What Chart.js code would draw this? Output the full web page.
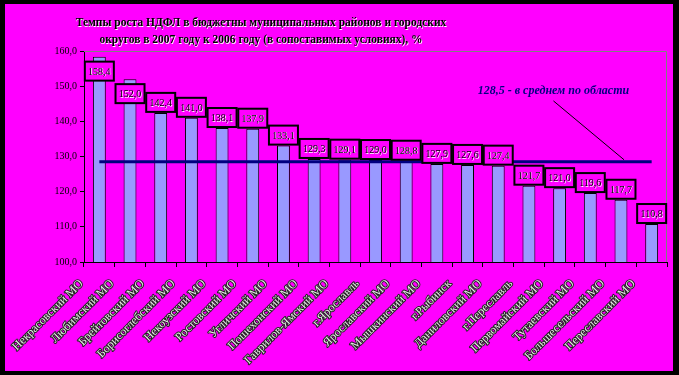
<!DOCTYPE html>
<html>
<head>
<meta charset="utf-8">
<script src="https://cdn.jsdelivr.net/npm/chart.js@4/dist/chart.umd.min.js"></script>
<style>
	html, body { margin: 0; padding: 0; background: #000; }
	#wrap { width: 679px; height: 375px; }
</style>
</head>
<body>
<div id="wrap"><canvas id="myChart" width="679" height="375"></canvas></div>
<script>
const districts = [
	"Некрасовский МО", "Любимский МО", "Брейтовский МО", "Борисоглебский МО",
	"Некоузский МО", "Ростовский МО", "Угличский МО", "Пошехонский МО",
	"Гаврилов-Ямский МО", "г.Ярославль", "Ярославский МО", "Мышкинский МО",
	"г.Рыбинск", "Даниловский МО", "г.Переславль", "Первомайский МО",
	"Тутаевский МО", "Большесельский МО", "Переславский МО"
];
const growth = [158.4, 152.0, 142.4, 141.0, 138.1, 137.9, 133.1, 129.3, 129.1, 129.0,
	128.8, 127.9, 127.6, 127.4, 121.7, 121.0, 119.6, 117.7, 110.8];
const regionAvg = 128.5;
const avgNote = "128,5 - в среднем по области";
const titleLines = [
	"Темпы роста НДФЛ в бюджетны муниципальных районов и городских",
	"округов в 2007 году к 2006 году (в сопоставимых условиях), %"
];

const serif = "'Liberation Serif', 'Times New Roman', serif";
const fmt = (v) => v.toFixed(1).replace(".", ",");

// фон: чёрная рамка и розовое поле, серые линии сверху и справа
const backdrop = {
	id: "backdrop",
	beforeDraw(chart) {
		const c = chart.ctx;
		c.save();
		c.fillStyle = "#000";
		c.fillRect(0, 0, chart.width, chart.height);
		c.fillStyle = "#ff00ff";
		c.fillRect(5, 4, 668, 367);
		c.restore();
	},
	beforeDatasetsDraw(chart) {
		const a = chart.chartArea;
		const c = chart.ctx;
		c.save();
		c.strokeStyle = "#808080";
		c.lineWidth = 1;
		c.beginPath();
		c.moveTo(a.left, a.top + 0.5);
		c.lineTo(a.right - 0.5, a.top + 0.5);
		c.lineTo(a.right - 0.5, a.bottom);
		c.stroke();
		c.restore();
	}
};

// подписи значений в рамках, подписи районов, заголовок, примечание
const extras = {
	id: "extras",
	afterDatasetsDraw(chart) {
		const c = chart.ctx;
		const a = chart.chartArea;
		const meta = chart.getDatasetMeta(1);
		c.save();
		c.font = "10px " + serif;
		c.textAlign = "center";
		c.textBaseline = "middle";
		meta.data.forEach((bar, i) => {
			const w = 29, h = 19;
			let top = bar.y - h - 1;
			if (top < a.top + 10) top = bar.y + 5;
			const left = bar.x - w / 2;
			c.fillStyle = "#ff00ff";
			c.fillRect(left, top, w, h);
			c.strokeStyle = "#000";
			c.lineWidth = 2;
			c.strokeRect(left, top, w, h);
			c.fillStyle = "#fff";
			c.fillText(fmt(growth[i]), bar.x + 0.6, top + h / 2 + 1.6);
			c.fillStyle = "#000";
			c.fillText(fmt(growth[i]), bar.x, top + h / 2 + 1);
		});

		// названия районов под осью, повёрнуты на 45°
		c.font = "12px " + serif;
		c.textAlign = "right";
		c.lineJoin = "round";
		meta.data.forEach((bar, i) => {
			c.save();
			c.translate(bar.x - 18, a.bottom + 20);
			c.rotate(-Math.PI / 4);
			c.strokeStyle = "#222";
			c.lineWidth = 2;
			c.strokeText(districts[i], 0, 0);
			c.fillStyle = "#e8e8e8";
			c.fillText(districts[i], 0, 0);
			c.restore();
		});
		c.textAlign = "center";

		const xs = chart.scales.x, ys = chart.scales.y;
		const lineY = ys.getPixelForValue(regionAvg);
		c.strokeStyle = "#000";
		c.lineWidth = 1;
		c.beginPath();
		c.moveTo(xs.getPixelForValue(14.8), ys.getPixelForValue(145.8));
		c.lineTo(xs.getPixelForValue(17.1), lineY - 2);
		c.stroke();

		c.font = "italic bold 12px " + serif;
		c.fillStyle = "#000080";
		c.fillText(avgNote, xs.getPixelForValue(14.8), ys.getPixelForValue(148.6));

		c.font = "bold 11.5px " + serif;
		titleLines.forEach((t, k) => {
			c.fillStyle = "#fff";
			c.fillText(t, 261.6, 23.6 + k * 17);
			c.fillStyle = "#000";
			c.fillText(t, 261, 23 + k * 17);
		});
		c.restore();
	}
};

const ctx = document.getElementById("myChart").getContext("2d");
const chart = new Chart(ctx, {
	type: "bar",
	data: {
		labels: districts,
		datasets: [
			{
				type: "line",
				data: districts.map(() => regionAvg),
				borderColor: "#000080",
				borderWidth: 3,
				pointRadius: 0,
				fill: false,
				order: 0,
			},
			{
				data: growth,
				backgroundColor: "#9999ff",
				borderColor: "#000",
				borderWidth: 1,
				categoryPercentage: 1,
				barPercentage: 0.42,
				order: 1,
			},
		],
	},
	options: {
		responsive: false,
		animation: false,
		layout: { padding: { left: 0, top: 51, right: 12, bottom: 0 } },
		plugins: { legend: { display: false }, tooltip: { enabled: false } },
		scales: {
			x: {
				grid: { offset: true, drawOnChartArea: false, tickLength: 5, color: "#000" },
				border: { color: "#000", width: 1 },
				ticks: { display: false },
				afterFit(s) { s.height = 113; },
			},
			y: {
				min: 100,
				max: 160,
				grid: { drawOnChartArea: false, tickLength: 4, color: "#000" },
				border: { color: "#000", width: 1 },
				ticks: {
					stepSize: 10,
					padding: 3,
					font: { family: serif, size: 10 },
					color: "#000",
					callback: (v) => fmt(v),
				},
				afterFit(s) { s.width = 84; },
			},
		},
	},
	plugins: [backdrop, extras],
});
</script>
</body>
</html>
